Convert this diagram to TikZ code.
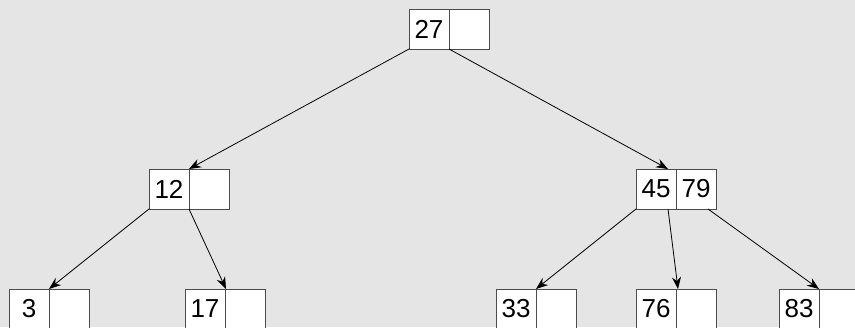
\documentclass[tikz,border=0pt]{standalone}
\usepackage{fontspec}
\setmainfont{Liberation Sans}
\usetikzlibrary{arrows.meta,calc}
\begin{document}
\begin{tikzpicture}[x=1pt,y=-1pt,
  cell/.style={draw=black!70,fill=white,line width=1pt,minimum width=40pt,minimum height=40pt,
    inner sep=0pt,outer sep=0pt,font=\fontsize{26}{26}\selectfont,anchor=north west},
  ptr/.style={draw=black,line width=0.8pt,-{Stealth[length=12pt,width=9pt]}}]
\fill[black!10] (0,0) rectangle (855,327);
\useasboundingbox (0,0) rectangle (855,327);
\begin{scope}
\clip (0,0) rectangle (855,327);
% root
\node[cell] (a1) at (409,9) {27};
\node[cell] (a2) at (449,9) {};
% level 2
\node[cell] (b1) at (149,169) {12};
\node[cell] (b2) at (189,169) {};
\node[cell] (c1) at (636,169) {45};
\node[cell] (c2) at (676,169) {79};
% leaves
\node[cell] (d1) at (9,289) {3};
\node[cell] (d2) at (49,289) {};
\node[cell] (e1) at (185,289) {17};
\node[cell] (e2) at (225,289) {};
\node[cell] (f1) at (496,289) {33};
\node[cell] (f2) at (536,289) {};
\node[cell] (g1) at (636,289) {76};
\node[cell] (g2) at (676,289) {};
\node[cell] (h1) at (779,289) {83};
\node[cell] (h2) at (819,289) {};
% pointers
\draw[ptr] (a1.south west) -- (b1.north east);
\draw[ptr] (a1.south east) -- ($(c1.north east)+(-8,0)$);
\draw[ptr] (b1.south west) -- (d1.north east);
\draw[ptr] (b1.south east) -- ($(e1.north east)+(1,0)$);
\draw[ptr] (c1.south west) -- (f1.north east);
\draw[ptr] ($(c1.south east)+(-8,0)$) -- ($(g1.north east)+(2,0)$);
\draw[ptr] ($(c2.south east)+(-8,0)$) -- (h1.north east);
\end{scope}
\end{tikzpicture}
\end{document}
